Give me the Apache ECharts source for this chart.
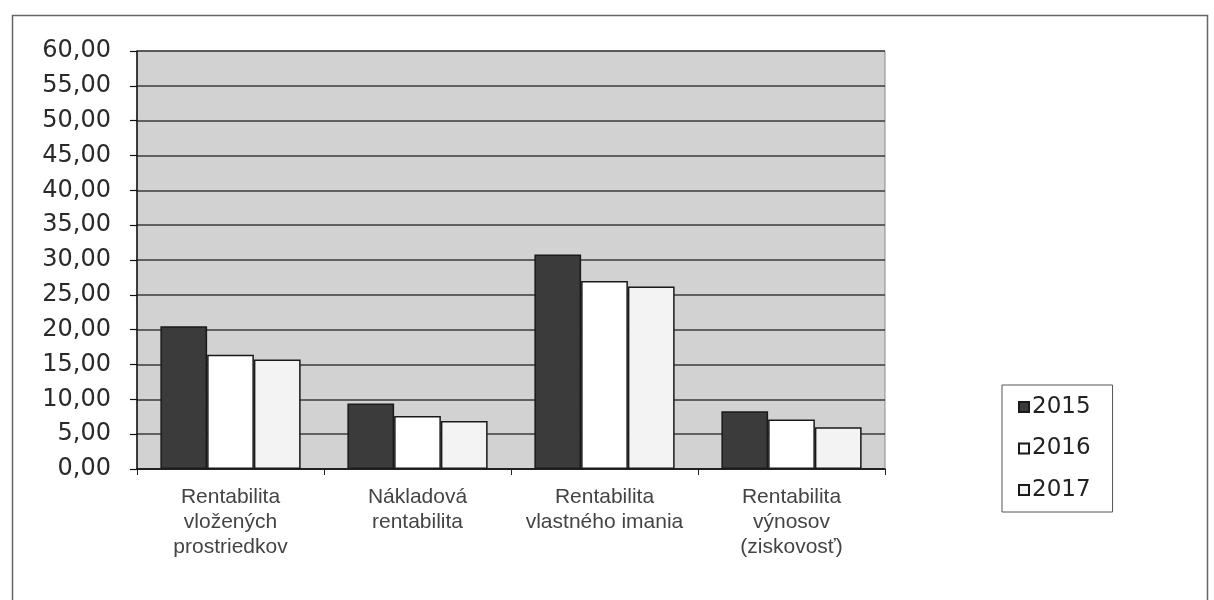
<!DOCTYPE html>
<html>
<head>
<meta charset="utf-8">
<script src="https://cdn.jsdelivr.net/npm/echarts@6/dist/echarts.min.js"></script>
<style>html,body{margin:0;padding:0;background:#fff;}#c{width:1214px;height:600px;}</style>
</head>
<body>
<div id="c"></div>
<script>
const categories = ['Rentabilita\nvložených\nprostriedkov', 'Nákladová\nrentabilita', 'Rentabilita\nvlastného imania', 'Rentabilita\nvýnosov\n(ziskovosť)'];
const seriesNames = ['2015', '2016', '2017'];
const values2015 = [20.5, 9.4, 30.8, 8.3];
const values2016 = [16.4, 7.6, 27.0, 7.1];
const values2017 = [15.7, 6.9, 26.2, 6.0];
const yMin = 0, yMax = 60, yStep = 5;

const colors = ['#3b3b3b', '#ffffff', '#f3f3f3'];
const allValues = [values2015, values2016, values2017];

const chart = echarts.init(document.getElementById('c'));
chart.setOption({
  backgroundColor: '#ffffff',
  animation: false,
  graphic: [{
    type: 'rect', left: 10, top: 13, silent: true,
    shape: { width: 1195, height: 600 },
    style: { fill: 'none', stroke: '#666', lineWidth: 1.5 }
  }],
  grid: {
    left: 137, right: 329, top: 51, bottom: 131,
    show: true, backgroundColor: '#d2d2d2', borderColor: '#8a8a8a', borderWidth: 1
  },
  legend: {
    orient: 'vertical', left: 1002, top: 385,
    padding: [10, 22, 10, 16],
    borderColor: '#555', borderWidth: 1, backgroundColor: '#fff',
    itemGap: 17.5, itemWidth: 10, itemHeight: 10,
    icon: 'rect',
    textStyle: { fontFamily: 'DejaVu Sans', fontSize: 23, color: '#222', lineHeight: 24, padding: [0, 0, 0, -2] },
    data: seriesNames
  },
  xAxis: {
    type: 'category', data: categories,
    axisLine: { lineStyle: { color: '#111', width: 1.5 } },
    axisTick: { show: true, interval: 0, length: 6, lineStyle: { color: '#222', width: 1 } },
    axisLabel: { interval: 0, hideOverlap: false, fontFamily: 'Liberation Sans', fontSize: 21, color: '#444', lineHeight: 25, margin: 16 }
  },
  yAxis: {
    type: 'value', min: yMin, max: yMax, interval: yStep,
    axisLine: { show: true, lineStyle: { color: '#111', width: 1.5 } },
    axisTick: { show: true, length: 7, lineStyle: { color: '#111', width: 1.2 } },
    axisLabel: {
      fontFamily: 'DejaVu Sans', fontSize: 24, color: '#2a2a2a', margin: 26,
      formatter: v => v.toFixed(2).replace('.', ',')
    },
    splitLine: { show: true, lineStyle: { color: '#3a3a3a', width: 1.5 } }
  },
  series: seriesNames.map((name, i) => ({
    name, type: 'bar', data: allValues[i],
    barGap: '0%', barCategoryGap: '25%',
    itemStyle: { color: colors[i], borderColor: '#1a1a1a', borderWidth: 1.5 }
  }))
});
</script>
</body>
</html>
